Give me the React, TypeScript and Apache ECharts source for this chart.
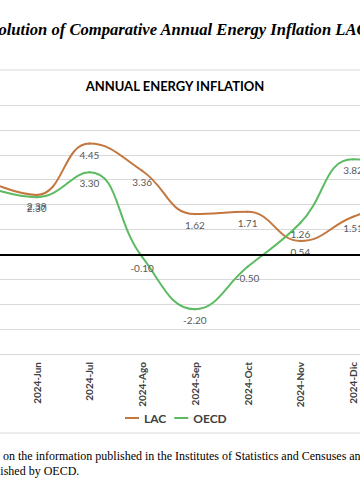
import React, { useEffect, useRef } from "react";
import * as echarts from "echarts";

const categories = [
  "2024-May",
  "2024-Jun",
  "2024-Jul",
  "2024-Ago",
  "2024-Sep",
  "2024-Oct",
  "2024-Nov",
  "2024-Dic",
  "2025-Ene",
];
const lacValues = [3.0, 2.39, 4.45, 3.36, 1.62, 1.71, 0.54, 1.51, 2.2];
const oecdValues = [2.75, 2.3, 3.3, -0.1, -2.2, -0.5, 1.26, 3.82, 3.6];
const yMin = -4;
const yMax = 6;

const docTitle = "Evolution of Comparative Annual Energy Inflation LAC";
const chartTitle = "ANNUAL ENERGY INFLATION";
const sourceLine1 = "on the information published in the Institutes of Statistics and Censuses and";
const sourceLine2 = "published by OECD.";

const LAC_COLOR = "#c3773f";
const OECD_COLOR = "#5cbb62";
const LABEL_COLOR = "#595959";
const FONT = "Lato, 'Open Sans', sans-serif";

// the chart canvas is wider than the window and shifted left (the reference is a crop)
const OFFSET = 60;
const CHART_W = 500;

export default function App() {
  const ref = useRef<HTMLDivElement>(null);
  useEffect(() => {
    if (!ref.current) return;
    const chart = echarts.init(ref.current, undefined, { renderer: "svg" });
    const labelCfg = {
      show: true,
      position: "bottom" as const,
      distance: 5,
      fontSize: 10,
      color: LABEL_COLOR,
      fontFamily: FONT,
      formatter: (p: any) => Number(p.value).toFixed(2),
    };
    chart.setOption({
      animation: false,
      backgroundColor: "#ffffff",
      textStyle: { fontFamily: FONT },
      grid: { left: OFFSET - 42.4, right: CHART_W - (OFFSET + 432.1), top: 105, bottom: 150, containLabel: false },
      graphic: [
        {
          type: "rect",
          shape: { x: OFFSET - 10, y: 70, width: 380, height: 363 },
          style: { fill: "none", stroke: "#d9d9d9", lineWidth: 1 },
          z: -1,
        },
        {
          type: "text",
          x: OFFSET - 20,
          y: 21,
          style: {
            text: docTitle,
            font: "italic bold 16.6px 'Liberation Serif', 'Times New Roman', serif",
            fill: "#000",
          },
        },
        {
          type: "text",
          x: OFFSET + 175,
          y: 79,
          style: {
            text: chartTitle,
            font: "bold 13px Lato, 'Open Sans', sans-serif",
            fill: "#000",
            textAlign: "center",
          },
        },
        {
          type: "text",
          x: OFFSET + 3,
          y: 450,
          style: {
            text: sourceLine1,
            font: "12px 'Liberation Serif', 'Times New Roman', serif",
            fill: "#000",
          },
        },
        {
          type: "text",
          x: OFFSET - 21,
          y: 465,
          style: {
            text: sourceLine2,
            font: "12px 'Liberation Serif', 'Times New Roman', serif",
            fill: "#000",
          },
        },
      ],
      legend: {
        left: OFFSET + 120,
        top: 407,
        itemWidth: 14,
        itemHeight: 2,
        itemGap: 8,
        icon: "rect",
        textStyle: { fontSize: 12, fontWeight: "bold", color: "#404040", fontFamily: FONT },
        data: ["LAC", "OECD"],
      },
      xAxis: {
        type: "category",
        data: categories,
        boundaryGap: true,
        axisLine: { show: false },
        axisTick: { show: false },
        axisLabel: {
          rotate: 90,
          margin: 8,
          fontSize: 10,
          fontWeight: "bold",
          color: "#404040",
          fontFamily: FONT,
          interval: 0,
        },
      },
      yAxis: {
        type: "value",
        min: yMin,
        max: yMax,
        interval: 1,
        axisLine: { show: false },
        axisTick: { show: false },
        axisLabel: { show: false },
        splitLine: { lineStyle: { color: "#d9d9d9", width: 1 } },
      },
      series: [
        {
          name: "LAC",
          type: "line",
          data: lacValues,
          smooth: 0.45,
          showSymbol: true,
          symbol: "circle",
          symbolSize: 2,
          lineStyle: { color: LAC_COLOR, width: 2 },
          itemStyle: { color: LAC_COLOR },
          label: labelCfg,
          markLine: {
            silent: true,
            symbol: "none",
            label: { show: false },
            lineStyle: { color: "#000", width: 2, type: "solid" },
            data: [{ yAxis: 0 }],
          },
          z: 2,
        },
        {
          name: "OECD",
          type: "line",
          data: oecdValues,
          smooth: 0.45,
          showSymbol: true,
          symbol: "circle",
          symbolSize: 2,
          lineStyle: { color: OECD_COLOR, width: 2 },
          itemStyle: { color: OECD_COLOR },
          label: labelCfg,
          z: 3,
        },
      ],
    });
    return () => chart.dispose();
  }, []);
  return (
    <div style={{ position: "fixed", left: 0, top: 0, width: 360, height: 504, overflow: "hidden", background: "#fff" }}>
      <div ref={ref} style={{ position: "absolute", left: -OFFSET, top: 0, width: CHART_W, height: 504 }} />
    </div>
  );
}
